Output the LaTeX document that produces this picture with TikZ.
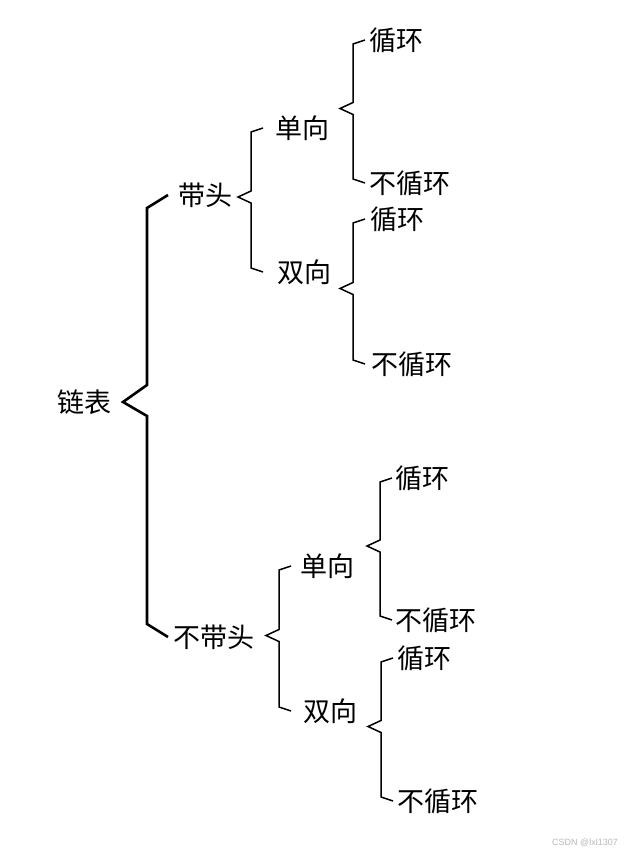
\documentclass[tikz,border=0pt]{standalone}
\usepackage{fontspec}
\setmainfont{Noto Sans CJK SC}
\newfontfamily\markfont{Liberation Sans}
\usetikzlibrary{calc}

% brace to two child labels, notch halfway between them: upper, lower, gap
\newcommand{\drawbrace}[3]{%
  \draw[brc] ([xshift=-#3]#1.west) -- ++(-12pt,-4pt) coordinate (bt)
    coordinate (mid) at ($(#1.west)!0.5!(#2.west)+(0,3pt)$)
    -- ($(bt |- mid)+(0,6pt)$)
    -- ($(bt |- mid)+(-13pt,0)$)
    -- ($(bt |- mid)+(0,-6pt)$)
    -- ($(bt |- #2.west)+(0,4pt)$)
    -- ($(bt |- #2.west)+(12pt,0)$);
}

\begin{document}
\begin{tikzpicture}[
  x=1pt, y=-1pt,
  lbl/.style={anchor=west, inner sep=0pt, font=\fontsize{27}{30}\selectfont},
  brc/.style={draw=black, line width=1.5pt, line join=miter},
]
\useasboundingbox[fill=white] (0,0) rectangle (636,856);

% === Labels ===
\node[lbl] (list)   at (57,402)  {链表};
\node[lbl] (head)   at (178,195) {带头};
\node[lbl] (nohead) at (173,637) {不带头};

% with head
\node[lbl] (h1)  at (275,128) {单向};
\node[lbl] (h2)  at (277,272) {双向};
\node[lbl] (h1c) at (369,40)  {循环};
\node[lbl] (h1n) at (369,183) {不循环};
\node[lbl] (h2c) at (370,219) {循环};
\node[lbl] (h2n) at (371,364) {不循环};

% without head
\node[lbl] (n1)  at (300,566) {单向};
\node[lbl] (n2)  at (303,711) {双向};
\node[lbl] (n1c) at (395,478) {循环};
\node[lbl] (n1n) at (395,620) {不循环};
\node[lbl] (n2c) at (397,658) {循环};
\node[lbl] (n2n) at (397,801) {不循环};

% === Main brace ===
\draw[brc, line width=2.6pt] ([xshift=-10pt]head.west) -- ++(-21pt,-13pt) coordinate (bt)
  -- ($(bt |- list.east)+(0,17pt)$)
  -- ($(bt |- list.east)+(-24pt,0)$)
  -- ($(bt |- list.east)+(0,-14pt)$)
  -- ($(bt |- nohead.west)+(0,13pt)$)
  -- ($(bt |- nohead.west)+(21pt,0)$);

% === Sub braces ===
\drawbrace{h1}{h2}{12pt}
\drawbrace{h1c}{h1n}{4pt}
\drawbrace{h2c}{h2n}{5pt}
\drawbrace{n1}{n2}{9pt}
\drawbrace{n1c}{n1n}{3pt}
\drawbrace{n2c}{n2n}{4pt}

% watermark
\node[font=\markfont\fontsize{9}{10}\selectfont, text=gray!55] (mark) at (585,843) {CSDN @lxl1307};

\end{tikzpicture}
\end{document}
